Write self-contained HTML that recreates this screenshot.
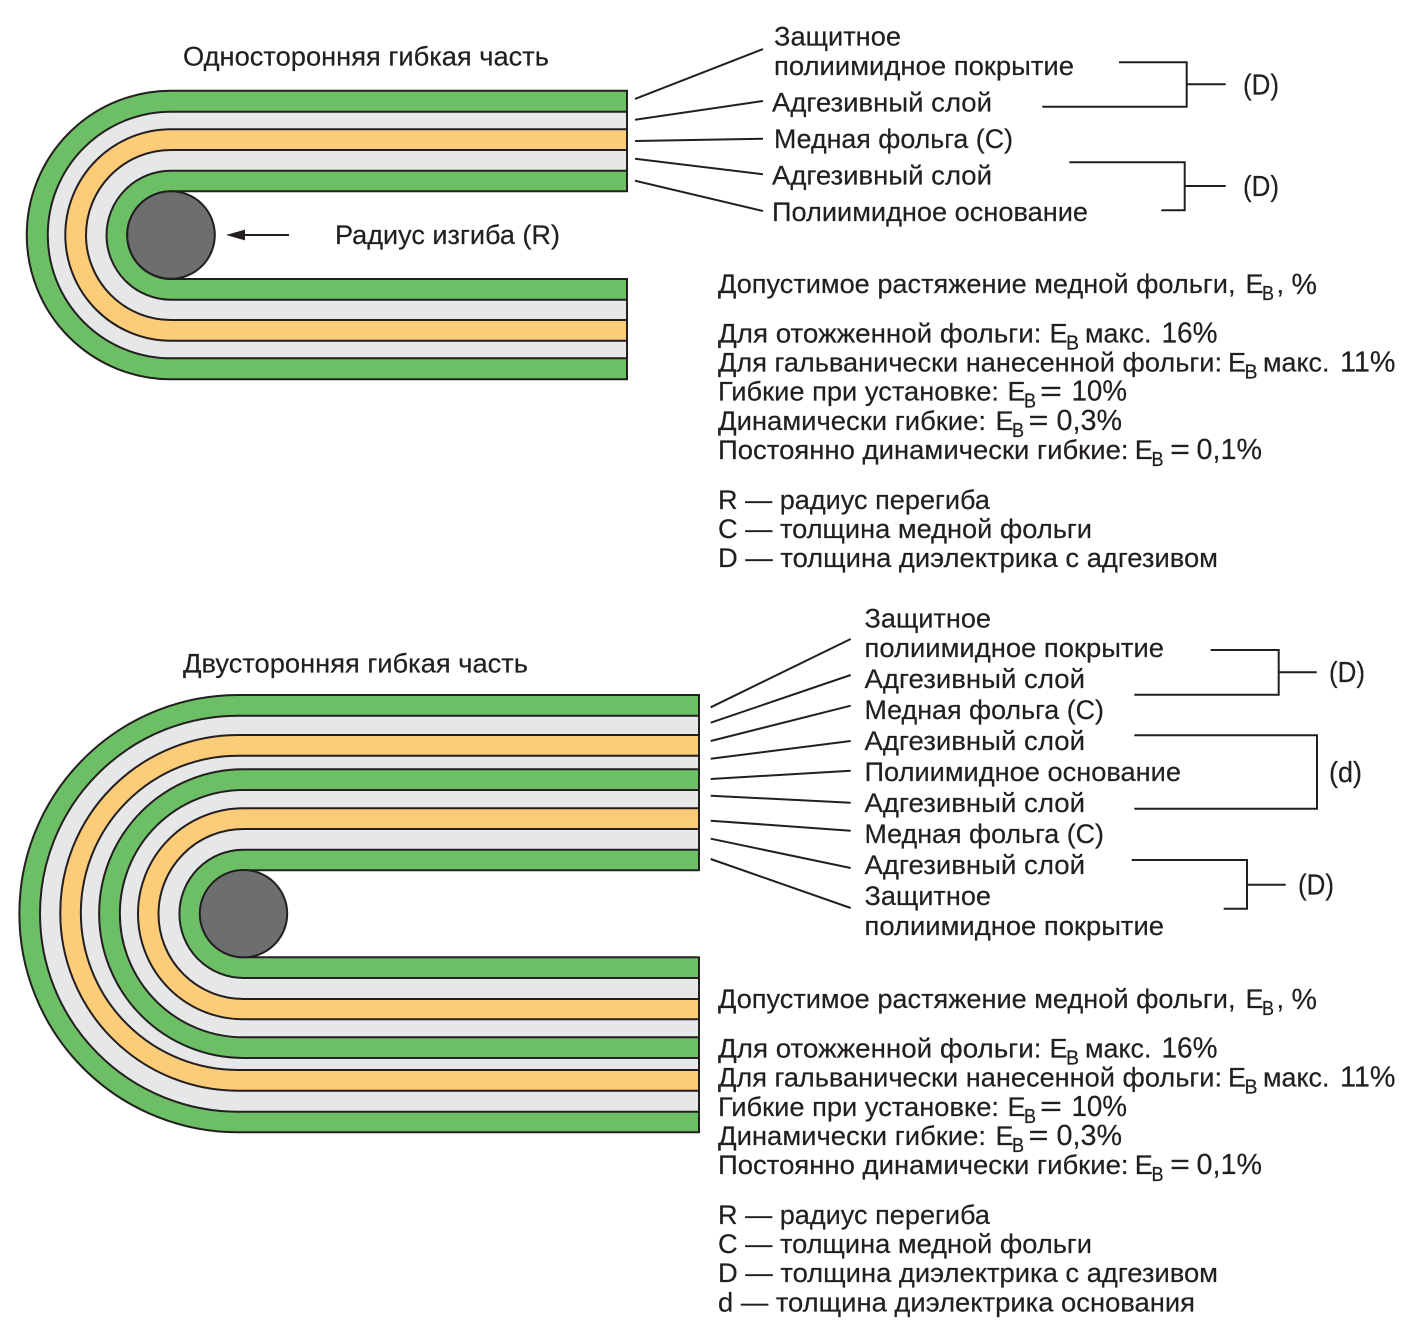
<!DOCTYPE html>
<html lang="ru">
<head>
<meta charset="utf-8">
<title>Гибкая часть</title>
<style>
html,body{margin:0;padding:0;background:#fff}
svg{display:block}
text{font-family:"Liberation Sans",sans-serif;font-size:27px;fill:#231f20;stroke:#231f20;stroke-width:.2}
text.s{font-size:20px}
text.p{font-size:29px}
.b path{stroke:#231f20;stroke-width:2}
.g{fill:#6cbf65}.e{fill:#e6e7e8}.o{fill:#fdcc79}
.l{fill:none;stroke:#231f20;stroke-width:2}
</style>
</head>
<body>
<svg width="1418" height="1333" viewBox="0 0 1418 1333" xmlns="http://www.w3.org/2000/svg">
<rect width="1418" height="1333" fill="#fff"/>

<!-- top cable -->
<g class="b">
<path class="g" d="M627 90.7H171A144.3 144.3 0 0 0 171 379.3H627Z"/>
<path class="e" d="M627 111.7H171A123.3 123.3 0 0 0 171 358.3H627Z"/>
<path class="o" d="M627 129.3H171A105.7 105.7 0 0 0 171 340.7H627Z"/>
<path class="e" d="M627 150H171A85 85 0 0 0 171 320H627Z"/>
<path class="g" d="M627 170.7H171A64.5 64.5 0 0 0 171 299.7H627Z"/>
<path fill="#fff" d="M640 191.3H171A43.85 43.85 0 0 0 171 279H640"/>
</g>
<rect x="626" y="192.3" width="16" height="85.7" fill="#fff"/>
<rect x="628" y="170" width="14" height="130" fill="#fff"/>
<circle cx="171" cy="235" r="43.8" fill="#6d6e70" stroke="#231f20" stroke-width="2"/>
<path class="l" d="M289 235H240"/>
<path fill="#231f20" d="M226 235L245 229.6V240.4Z"/>

<!-- top leaders -->
<path class="l" d="M635 99L763 49M635 119.7L763 101M635 141L763 138.7M635 158.7L763 174.3M635 180.7L763 211"/>
<path class="l" d="M1119 62.3H1186.7V106.7H1042.3M1186.7 84.3H1225.7"/>
<path class="l" d="M1069.3 162.3H1184.7V210.3H1161.3M1184.7 186H1225.7"/>

<text x="183" y="65.5" textLength="366" lengthAdjust="spacingAndGlyphs">Односторонняя гибкая часть</text>
<text x="335" y="244" textLength="225" lengthAdjust="spacingAndGlyphs">Радиус изгиба (R)</text>
<text x="774" y="45.5" textLength="127" lengthAdjust="spacingAndGlyphs">Защитное</text>
<text x="774" y="75" textLength="300" lengthAdjust="spacingAndGlyphs">полиимидное покрытие</text>
<text x="772" y="111.5" textLength="220" lengthAdjust="spacingAndGlyphs">Адгезивный слой</text>
<text x="774" y="148" textLength="239" lengthAdjust="spacingAndGlyphs">Медная фольга (C)</text>
<text x="772" y="184.5" textLength="220" lengthAdjust="spacingAndGlyphs">Адгезивный слой</text>
<text x="772" y="221" textLength="316" lengthAdjust="spacingAndGlyphs">Полиимидное основание</text>
<text class="p" x="1243" y="94.5" textLength="36" lengthAdjust="spacingAndGlyphs">(D)</text>
<text class="p" x="1243" y="196" textLength="36" lengthAdjust="spacingAndGlyphs">(D)</text>

<!-- top notes -->
<text x="718" y="293" textLength="517.5" lengthAdjust="spacingAndGlyphs">Допустимое растяжение медной фольги,</text>
<text x="1245.5" y="293">E</text>
<text class="s" x="1262" y="300" textLength="12" lengthAdjust="spacingAndGlyphs">B</text>
<text x="1276.5" y="293">,</text>
<text class="p" x="1291.5" y="294" textLength="25.5" lengthAdjust="spacingAndGlyphs">%</text>

<text x="718" y="342.5" textLength="323.5" lengthAdjust="spacingAndGlyphs">Для отожженной фольги:</text>
<text x="1049.5" y="342.5">E</text>
<text class="s" x="1066" y="349.5" textLength="13" lengthAdjust="spacingAndGlyphs">B</text>
<text x="1085" y="342.5" textLength="66.5" lengthAdjust="spacingAndGlyphs">макс.</text>
<text class="p" x="1161.5" y="342.5" textLength="56" lengthAdjust="spacingAndGlyphs">16%</text>

<text x="718" y="371.5" textLength="504" lengthAdjust="spacingAndGlyphs">Для гальванически нанесенной фольги:</text>
<text x="1228" y="371.5">E</text>
<text class="s" x="1244.5" y="378.5" textLength="13" lengthAdjust="spacingAndGlyphs">B</text>
<text x="1263" y="371.5" textLength="66.5" lengthAdjust="spacingAndGlyphs">макс.</text>
<text class="p" x="1340" y="371.5" textLength="55.5" lengthAdjust="spacingAndGlyphs">11%</text>

<text x="718" y="400.5" textLength="281" lengthAdjust="spacingAndGlyphs">Гибкие при установке:</text>
<text x="1007.5" y="400.5">E</text>
<text class="s" x="1024" y="407.5" textLength="12" lengthAdjust="spacingAndGlyphs">B</text>
<text class="p" x="1040" y="401" textLength="22" lengthAdjust="spacingAndGlyphs">=</text>
<text class="p" x="1071.5" y="400.5" textLength="55.5" lengthAdjust="spacingAndGlyphs">10%</text>

<text x="718" y="430" textLength="268" lengthAdjust="spacingAndGlyphs">Динамически гибкие:</text>
<text x="995.5" y="430">E</text>
<text class="s" x="1012" y="437" textLength="12" lengthAdjust="spacingAndGlyphs">B</text>
<text class="p" x="1028.5" y="430" textLength="20" lengthAdjust="spacingAndGlyphs">=</text>
<text class="p" x="1056.5" y="430" textLength="65.5" lengthAdjust="spacingAndGlyphs">0,3%</text>

<text x="718" y="459" textLength="410.5" lengthAdjust="spacingAndGlyphs">Постоянно динамически гибкие:</text>
<text x="1134.7" y="459">E</text>
<text class="s" x="1151.5" y="466" textLength="12" lengthAdjust="spacingAndGlyphs">B</text>
<text class="p" x="1170" y="459" textLength="20" lengthAdjust="spacingAndGlyphs">=</text>
<text class="p" x="1196.5" y="459" textLength="65.5" lengthAdjust="spacingAndGlyphs">0,1%</text>

<text x="718" y="509" textLength="272" lengthAdjust="spacingAndGlyphs">R — радиус перегиба</text>
<text x="718" y="538" textLength="374" lengthAdjust="spacingAndGlyphs">C — толщина медной фольги</text>
<text x="718" y="567" textLength="500" lengthAdjust="spacingAndGlyphs">D — толщина диэлектрика с адгезивом</text>

<!-- bottom cable -->
<g class="b">
<path class="g" d="M699 695H238A218.65 218.65 0 0 0 238 1132.3H699Z"/>
<path class="e" d="M699 715.7H238A198 198 0 0 0 238 1111.7H699Z"/>
<path class="o" d="M699 735H238A177.85 177.85 0 0 0 238 1090.7H699Z"/>
<path class="e" d="M699 755.7H238A157.15 157.15 0 0 0 238 1070H699Z"/>
<path class="g" d="M699 769.3H243.5A144.35 144.35 0 0 0 243.5 1058H699Z"/>
<path class="e" d="M699 790H243.5A123.65 123.65 0 0 0 243.5 1037.3H699Z"/>
<path class="o" d="M699 808.3H243.5A105.5 105.5 0 0 0 243.5 1019.3H699Z"/>
<path class="e" d="M699 829H243.5A85 85 0 0 0 243.5 999H699Z"/>
<path class="g" d="M699 849.7H243.5A64.15 64.15 0 0 0 243.5 978H699Z"/>
<path fill="#fff" d="M712 870.3H243.5A43.5 43.5 0 0 0 243.5 957.3H712"/>
</g>
<rect x="698" y="871.3" width="16" height="85" fill="#fff"/>
<rect x="700" y="849" width="14" height="130" fill="#fff"/>
<circle cx="243.5" cy="913.7" r="43.7" fill="#6d6e70" stroke="#231f20" stroke-width="2"/>

<!-- bottom leaders -->
<path class="l" d="M710.7 707.3L850.7 639M710.7 722.7L850.7 675M710.7 741L850.7 705.7M710.7 758.7L850.7 741M710.7 779L850.7 770.7M710.7 795.7L850.7 802.7M710.7 820.7L850.7 830.7M710.7 838.7L850.7 868M710.7 859L850.7 908"/>
<path class="l" d="M1210.7 650H1278.7V694.7H1134.3M1278.7 672.3H1316.7"/>
<path class="l" d="M1134.3 735.3H1317V808.7H1134.3"/>
<path class="l" d="M1131.7 860H1247V908.7H1223.7M1247 884.7H1285.7"/>

<text x="183" y="672.5" textLength="345" lengthAdjust="spacingAndGlyphs">Двусторонняя гибкая часть</text>
<text x="864.5" y="627.5" textLength="126.5" lengthAdjust="spacingAndGlyphs">Защитное</text>
<text x="864.5" y="657" textLength="299.5" lengthAdjust="spacingAndGlyphs">полиимидное покрытие</text>
<text x="864.5" y="688" textLength="220.5" lengthAdjust="spacingAndGlyphs">Адгезивный слой</text>
<text x="864.5" y="719" textLength="239.5" lengthAdjust="spacingAndGlyphs">Медная фольга (C)</text>
<text x="864.5" y="750" textLength="220.5" lengthAdjust="spacingAndGlyphs">Адгезивный слой</text>
<text x="864.5" y="781" textLength="316.5" lengthAdjust="spacingAndGlyphs">Полиимидное основание</text>
<text x="864.5" y="812" textLength="220.5" lengthAdjust="spacingAndGlyphs">Адгезивный слой</text>
<text x="864.5" y="843" textLength="239.5" lengthAdjust="spacingAndGlyphs">Медная фольга (C)</text>
<text x="864.5" y="874" textLength="220.5" lengthAdjust="spacingAndGlyphs">Адгезивный слой</text>
<text x="864.5" y="905" textLength="126.5" lengthAdjust="spacingAndGlyphs">Защитное</text>
<text x="864.5" y="935" textLength="299.5" lengthAdjust="spacingAndGlyphs">полиимидное покрытие</text>
<text class="p" x="1329" y="682" textLength="36" lengthAdjust="spacingAndGlyphs">(D)</text>
<text class="p" x="1329" y="782" textLength="33" lengthAdjust="spacingAndGlyphs">(d)</text>
<text class="p" x="1298" y="894.5" textLength="36" lengthAdjust="spacingAndGlyphs">(D)</text>

<!-- bottom notes -->
<text x="718" y="1008" textLength="517.5" lengthAdjust="spacingAndGlyphs">Допустимое растяжение медной фольги,</text>
<text x="1245.5" y="1008">E</text>
<text class="s" x="1262" y="1015" textLength="12" lengthAdjust="spacingAndGlyphs">B</text>
<text x="1276.5" y="1008">,</text>
<text class="p" x="1291.5" y="1009" textLength="25.5" lengthAdjust="spacingAndGlyphs">%</text>

<text x="718" y="1057.5" textLength="323.5" lengthAdjust="spacingAndGlyphs">Для отожженной фольги:</text>
<text x="1049.5" y="1057.5">E</text>
<text class="s" x="1066" y="1064.5" textLength="13" lengthAdjust="spacingAndGlyphs">B</text>
<text x="1085" y="1057.5" textLength="66.5" lengthAdjust="spacingAndGlyphs">макс.</text>
<text class="p" x="1161.5" y="1057.5" textLength="56" lengthAdjust="spacingAndGlyphs">16%</text>

<text x="718" y="1086.5" textLength="504" lengthAdjust="spacingAndGlyphs">Для гальванически нанесенной фольги:</text>
<text x="1228" y="1086.5">E</text>
<text class="s" x="1244.5" y="1093.5" textLength="13" lengthAdjust="spacingAndGlyphs">B</text>
<text x="1263" y="1086.5" textLength="66.5" lengthAdjust="spacingAndGlyphs">макс.</text>
<text class="p" x="1340" y="1086.5" textLength="55.5" lengthAdjust="spacingAndGlyphs">11%</text>

<text x="718" y="1116" textLength="281" lengthAdjust="spacingAndGlyphs">Гибкие при установке:</text>
<text x="1007.5" y="1116">E</text>
<text class="s" x="1024" y="1123" textLength="12" lengthAdjust="spacingAndGlyphs">B</text>
<text class="p" x="1040" y="1116" textLength="22" lengthAdjust="spacingAndGlyphs">=</text>
<text class="p" x="1071.5" y="1116" textLength="55.5" lengthAdjust="spacingAndGlyphs">10%</text>

<text x="718" y="1145" textLength="268" lengthAdjust="spacingAndGlyphs">Динамически гибкие:</text>
<text x="995.5" y="1145">E</text>
<text class="s" x="1012" y="1152" textLength="12" lengthAdjust="spacingAndGlyphs">B</text>
<text class="p" x="1028.5" y="1145" textLength="20" lengthAdjust="spacingAndGlyphs">=</text>
<text class="p" x="1056.5" y="1145" textLength="65.5" lengthAdjust="spacingAndGlyphs">0,3%</text>

<text x="718" y="1174" textLength="410.5" lengthAdjust="spacingAndGlyphs">Постоянно динамически гибкие:</text>
<text x="1134.7" y="1174">E</text>
<text class="s" x="1151.5" y="1181" textLength="12" lengthAdjust="spacingAndGlyphs">B</text>
<text class="p" x="1170" y="1174" textLength="20" lengthAdjust="spacingAndGlyphs">=</text>
<text class="p" x="1196.5" y="1174" textLength="65.5" lengthAdjust="spacingAndGlyphs">0,1%</text>

<text x="718" y="1224" textLength="272" lengthAdjust="spacingAndGlyphs">R — радиус перегиба</text>
<text x="718" y="1253" textLength="374" lengthAdjust="spacingAndGlyphs">C — толщина медной фольги</text>
<text x="718" y="1282" textLength="500" lengthAdjust="spacingAndGlyphs">D — толщина диэлектрика с адгезивом</text>
<text x="718" y="1311.5" textLength="477" lengthAdjust="spacingAndGlyphs">d — толщина диэлектрика основания</text>
</svg>
</body>
</html>
